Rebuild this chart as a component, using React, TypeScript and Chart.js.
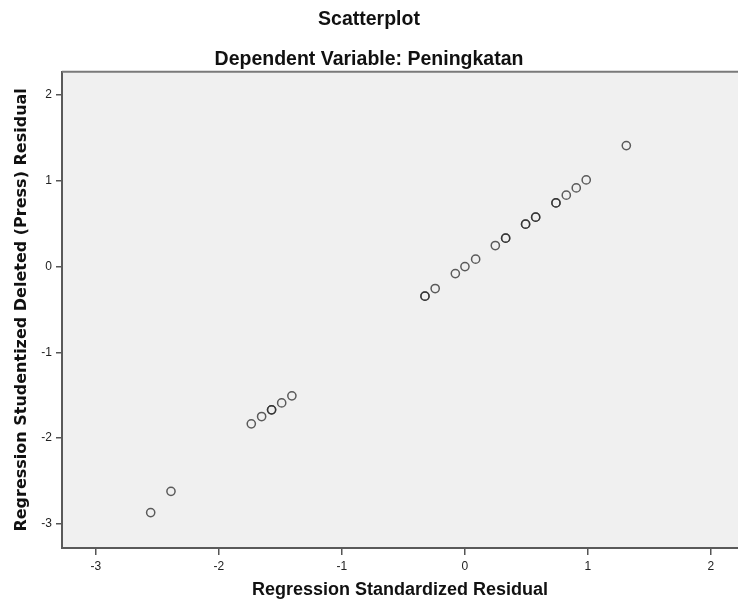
import React, { useEffect, useRef } from "react";
import { Chart, registerables } from "chart.js";

Chart.register(...registerables);

const chartTitle = "Scatterplot";
const chartSubtitle = "Dependent Variable: Peningkatan";
const xAxisTitle = "Regression Standardized Residual";
const yAxisTitle = "Regression Studentized Deleted (Press) Residual";

const standardizedResidual = [
  -2.555, -2.39, -1.737, -1.653, -1.572, -1.572, -1.49, -1.407, -0.325, -0.325,
  -0.242, -0.078, 0.0, 0.087, 0.247, 0.331, 0.331, 0.493, 0.493, 0.575, 0.575,
  0.74, 0.74, 0.824, 0.905, 0.986, 1.312,
];
const studentizedDeletedResidual = [
  -2.867, -2.62, -1.833, -1.748, -1.67, -1.67, -1.589, -1.507, -0.345, -0.345,
  -0.256, -0.082, 0.0, 0.086, 0.245, 0.331, 0.331, 0.494, 0.494, 0.576, 0.576,
  0.742, 0.742, 0.832, 0.917, 1.01, 1.41,
];

const xRange = [-3.276, 2.22];
const yRange = [-3.28, 2.27];

const plotBackground = {
  id: "plotBackground",
  beforeDraw(chart: any) {
    const { ctx, chartArea } = chart;
    if (!chartArea) return;
    ctx.save();
    ctx.fillStyle = "#F0F0F0";
    ctx.fillRect(chartArea.left, chartArea.top, chartArea.right - chartArea.left, chartArea.bottom - chartArea.top);
    ctx.restore();
  },
  afterDraw(chart: any) {
    const { ctx, chartArea } = chart;
    if (!chartArea) return;
    ctx.save();
    ctx.strokeStyle = "#7a7a7a";
    ctx.lineWidth = 2;
    ctx.beginPath();
    ctx.moveTo(chartArea.left, chartArea.top);
    ctx.lineTo(chartArea.right, chartArea.top);
    ctx.stroke();
    ctx.restore();
  },
};

export default function App() {
  const canvasRef = useRef<HTMLCanvasElement | null>(null);

  useEffect(() => {
    document.body.style.margin = "0";
    const canvas = canvasRef.current;
    if (!canvas) return;
    const points = standardizedResidual.map((x, i) => ({ x, y: studentizedDeletedResidual[i] }));
    const chart = new Chart(canvas, {
      type: "scatter",
      data: {
        datasets: [
          {
            data: points,
            pointStyle: "circle",
            pointRadius: 4.1,
            pointHoverRadius: 4.1,
            borderWidth: 1.5,
            pointBorderColor: "rgba(40,40,40,0.75)",
            pointBackgroundColor: "rgba(0,0,0,0)",
          },
        ],
      },
      options: {
        animation: false,
        responsive: false,
        maintainAspectRatio: false,
        layout: { padding: 0, autoPadding: false },
        plugins: {
          legend: { display: false },
          tooltip: { enabled: false },
          title: {
            display: true,
            text: chartTitle,
            color: "#111",
            font: { family: "'Liberation Sans', Arial, sans-serif", size: 19.5, weight: "bold" },
            padding: { top: 8, bottom: 17 },
          },
          subtitle: {
            display: true,
            text: chartSubtitle,
            color: "#111",
            font: { family: "'Liberation Sans', Arial, sans-serif", size: 19.5, weight: "bold" },
            padding: { top: 0, bottom: 0 },
          },
        },
        scales: {
          x: {
            type: "linear",
            position: "bottom",
            min: xRange[0],
            max: xRange[1],
            afterFit: (scale: any) => {
              scale.height = 61;
            },
            ticks: {
              stepSize: 1,
              includeBounds: false,
              padding: 4,
              color: "#222",
              font: { family: "'Liberation Sans', Arial, sans-serif", size: 12 },
            },
            grid: {
              drawOnChartArea: false,
              drawTicks: true,
              tickLength: 7,
              color: "#555",
              lineWidth: 1.5,
            },
            border: { display: true, color: "#5a5a5a", width: 2 },
            title: {
              display: true,
              text: xAxisTitle,
              color: "#111",
              font: { family: "'Liberation Sans', Arial, sans-serif", size: 18, weight: "bold" },
              padding: { top: 0, bottom: 8 },
            },
          },
          y: {
            type: "linear",
            position: "left",
            min: yRange[0],
            max: yRange[1],
            afterFit: (scale: any) => {
              scale.width = 62;
            },
            ticks: {
              stepSize: 1,
              includeBounds: false,
              padding: 4,
              color: "#222",
              font: { family: "'Liberation Sans', Arial, sans-serif", size: 12 },
            },
            grid: {
              drawOnChartArea: false,
              drawTicks: true,
              tickLength: 6,
              color: "#555",
              lineWidth: 1.5,
            },
            border: { display: true, color: "#5a5a5a", width: 2 },
            title: {
              display: true,
              text: yAxisTitle,
              color: "#111",
              font: { family: "'DejaVu Sans', Verdana, sans-serif", size: 16, weight: "bold" },
              padding: { top: 12, bottom: 0 },
            },
          },
        },
      },
      plugins: [plotBackground],
    });
    return () => chart.destroy();
  }, []);

  return (
    <div style={{ width: 738, height: 609, background: "#fff" }}>
      <canvas ref={canvasRef} width={738} height={609} style={{ display: "block" }} />
    </div>
  );
}
